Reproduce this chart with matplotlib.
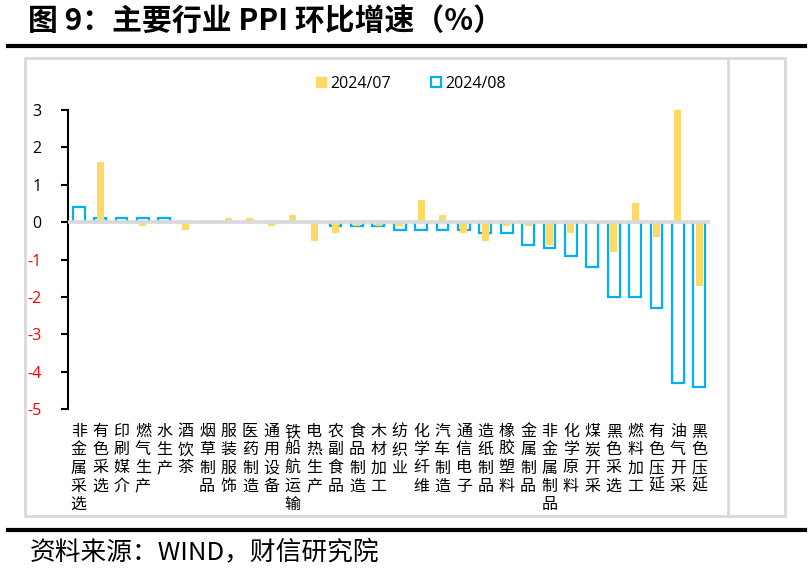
import matplotlib
matplotlib.use("Agg")
import matplotlib.pyplot as plt
from matplotlib.patches import Patch, Rectangle
from matplotlib.lines import Line2D

plt.rcParams['font.family'] = ['Noto Sans CJK SC', 'DejaVu Sans']

categories = ["非金属采选", "有色采选", "印刷媒介", "燃气生产", "水生产", "酒饮茶",
              "烟草制品", "服装服饰", "医药制造", "通用设备", "铁船航运输", "电热生产",
              "农副食品", "食品制造", "木材加工", "纺织业", "化学纤维", "汽车制造",
              "通信电子", "造纸制品", "橡胶塑料", "金属制品", "非金属制品", "化学原料",
              "煤炭开采", "黑色采选", "燃料加工", "有色压延", "油气开采", "黑色压延"]
jul = [0.0, 1.6, 0.0, -0.1, 0.0, -0.2, 0.0, 0.1, 0.1, -0.1, 0.2, -0.5,
       -0.3, -0.1, -0.1, -0.1, 0.6, 0.2, -0.3, -0.5, -0.1, -0.1, -0.6, -0.3,
       0.0, -0.8, 0.5, -0.4, 3.0, -1.7]
aug = [0.4, 0.1, 0.1, 0.1, 0.1, 0.0, 0.0, 0.0, 0.0, 0.0, 0.0, 0.0,
       -0.1, -0.1, -0.1, -0.2, -0.2, -0.2, -0.2, -0.3, -0.3, -0.6, -0.7, -0.9,
       -1.2, -2.0, -2.0, -2.3, -4.3, -4.4]
yticks = [3, 2, 1, 0, -1, -2, -3, -4, -5]

yellow = "#FFD966"
blue = "#00B0F0"

fig = plt.figure(figsize=(8.1, 5.73), dpi=100)
ax = fig.add_axes([68/810, 1-409/573, (710-68)/810, (409-110)/573])

x = range(len(categories))
ax.bar(x, aug, width=0.55, facecolor="none", edgecolor=blue, linewidth=1.6, zorder=2)
ax.bar(x, jul, width=0.33, color=yellow, zorder=3)
ax.axhline(0, color="#D9D9D9", lw=2.6, zorder=4)

ax.set_xlim(-0.5, len(categories) - 0.5)
ax.set_ylim(-5, 3)
ax.set_yticks(yticks)
ax.set_yticklabels([str(v) for v in yticks], family=['Open Sans', 'DejaVu Sans'], fontsize=11.5)
for lbl, v in zip(ax.get_yticklabels(), yticks):
    lbl.set_color("#FF0000" if v < 0 else "black")
ax.tick_params(axis='y', direction='out', length=5, width=1.5, pad=14)

ax.set_xticks(list(x))
ax.set_xticklabels(["\n".join(c) for c in categories], fontsize=11.5,
                   linespacing=1.1, va='top')
ax.tick_params(axis='x', length=0, pad=10)

for s in ["top", "right", "bottom"]:
    ax.spines[s].set_visible(False)
ax.spines["left"].set_linewidth(1.5)

handles = [Patch(facecolor=yellow, edgecolor=yellow, label="2024/07"),
           Patch(facecolor="white", edgecolor=blue, linewidth=1.6, label="2024/08")]
fig.legend(handles=handles, loc="center", bbox_to_anchor=(411/810, 1-84/573), ncol=2,
           frameon=False, handlelength=0.6, handleheight=0.6, handletextpad=0.3,
           columnspacing=2.5, prop={'family': ['Open Sans', 'DejaVu Sans'], 'size': 11.5})

# frame and rules
fig.add_artist(Rectangle((25/810, 1-516/573), 760/810, 458/573, transform=fig.transFigure,
                         fill=False, edgecolor="#D9D9D9", lw=2))
fig.add_artist(Line2D([728/810, 728/810], [1-516/573, 1-58/573], transform=fig.transFigure,
                      color="#D9D9D9", lw=2))
fig.add_artist(Line2D([8/810, 805/810], [1-46/573, 1-46/573], transform=fig.transFigure,
                      color="black", lw=3))
fig.add_artist(Line2D([8/810, 805/810], [1-530/573, 1-530/573], transform=fig.transFigure,
                      color="black", lw=3))

fig.text(28/810, 1-21/573, "图 9：主要行业 PPI 环比增速（%）", fontsize=21.5,
         fontweight='bold', va='center', ha='left')
fig.text(30/810, 1-553/573, "资料来源：WIND，财信研究院", fontsize=18.5,
         style='italic', va='center', ha='left')

fig.savefig("out.png", dpi=100)
